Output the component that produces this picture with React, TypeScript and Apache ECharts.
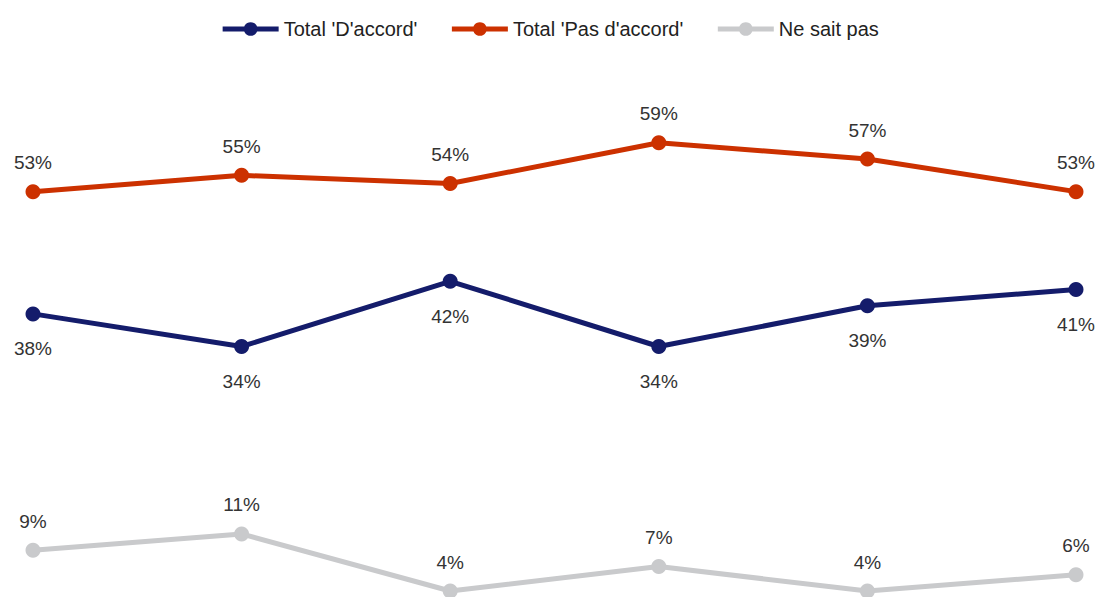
import React, { useEffect, useRef } from "react";
import * as echarts from "echarts";

const categories = ["1", "2", "3", "4", "5", "6"];
const accord = [38, 34, 42, 34, 39, 41];
const pasAccord = [53, 55, 54, 59, 57, 53];
const nsp = [9, 11, 4, 7, 4, 6];
const seriesNames = ["Total 'D'accord'", "Total 'Pas d'accord'", "Ne sait pas"];
const colors = ["#141c6b", "#cc3100", "#c9cacc"];

const FONT = "'Liberation Sans Narrow', 'Arial Narrow', 'Liberation Sans', sans-serif";

export default function App() {
  const ref = useRef<HTMLDivElement>(null);
  useEffect(() => {
    if (!ref.current) return;
    const chart = echarts.init(ref.current, null, { renderer: "svg" });
    const mk = (name: string, data: number[], color: string, pos: "top" | "bottom", dist: number) => ({
      name,
      type: "line",
      data,
      clip: false,
      symbol: "circle",
      symbolSize: 15,
      lineStyle: { color, width: 5 },
      itemStyle: { color },
      label: {
        show: true,
        position: pos,
        distance: dist,
        formatter: "{c}%",
        color: "#333333",
        fontSize: 19,
        fontFamily: FONT,
      },
    });
    chart.setOption({
      animation: false,
      legend: {
        top: 14,
        left: "center",
        itemWidth: 56,
        itemHeight: 17,
        itemGap: 32,
        lineStyle: { width: 5 },
        textStyle: { fontSize: 20, fontFamily: FONT, color: "#222222" },
        data: seriesNames,
      },
      grid: { left: 33, right: 23, top: 102, bottom: 6 },
      xAxis: {
        type: "category",
        data: categories,
        boundaryGap: false,
        show: false,
      },
      yAxis: { type: "value", min: 4, max: 64, show: false },
      series: [
        mk(seriesNames[0], accord, colors[0], "bottom", 18),
        mk(seriesNames[1], pasAccord, colors[1], "top", 12),
        mk(seriesNames[2], nsp, colors[2], "top", 12),
      ],
    });
    return () => chart.dispose();
  }, []);
  return (
    <div
      ref={ref}
      style={{ position: "absolute", left: 0, top: 0, width: 1099, height: 597, background: "#ffffff" }}
    />
  );
}
